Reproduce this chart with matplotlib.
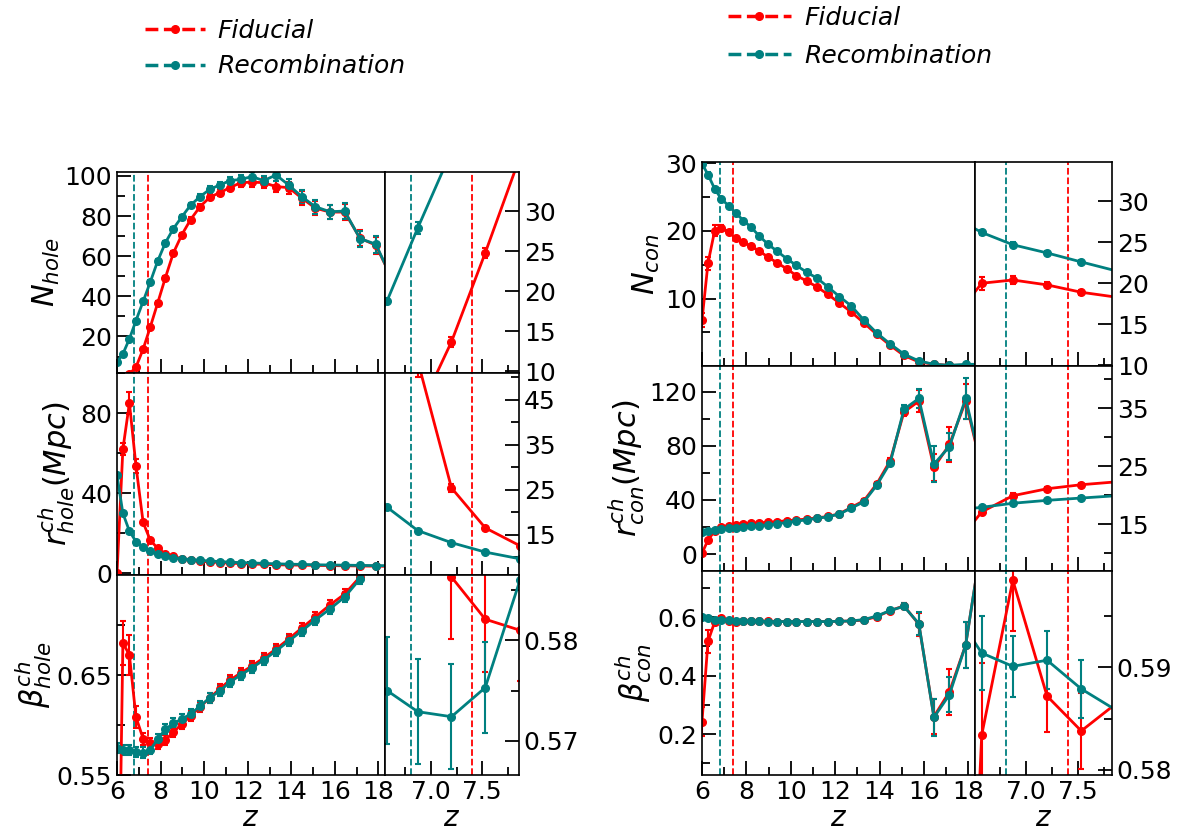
import matplotlib.pyplot as plt
from matplotlib.lines import Line2D
from matplotlib.ticker import MultipleLocator, FixedLocator, FormatStrFormatter, NullLocator

# redshift grid shared by all the quantities
z = [6.00, 6.27, 6.57, 6.87, 7.20, 7.53, 7.87, 8.22, 8.59, 8.98, 9.38, 9.81, 10.25, 10.71,
     11.19, 11.68, 12.19, 12.73, 13.30, 13.88, 14.48, 15.10, 15.77, 16.45, 17.15, 17.88, 18.65]

# number of holes
nhole_fid = [0.0, 0.4, 1.3, 4.7, 13.7, 24.8, 36.8, 49.3, 61.7, 70.8, 78.3, 84.7, 89.3, 91.7,
             94.2, 96.7, 96.9, 96.7, 94.7, 94.2, 89.0, 84.0, 82.0, 82.0, 69.0, 65.5, 48.0]
nhole_fid_err = [0.1, 0.2, 0.3, 0.5, 0.6, 0.6, 0.8, 0.8, 0.9, 1.0, 1.2, 1.3, 1.5, 1.6,
                 1.8, 2.0, 2.3, 2.5, 2.8, 3.0, 3.3, 3.5, 3.5, 3.8, 4.0, 4.2, 5.0]
nhole_rec = [7.2, 11.3, 18.8, 27.9, 37.5, 47.2, 57.7, 66.7, 73.8, 79.7, 85.5, 89.7, 93.3, 95.5,
             97.7, 98.3, 99.7, 97.7, 100.5, 95.5, 89.7, 84.7, 82.2, 82.5, 68.8, 66.0, 48.0]
nhole_rec_err = [0.2, 0.3, 0.4, 0.7, 0.7, 0.8, 0.8, 0.9, 1.0, 1.0, 1.2, 1.3, 1.5, 1.6,
                 1.8, 2.0, 2.3, 2.5, 2.8, 3.0, 3.3, 3.5, 3.5, 3.8, 4.0, 4.2, 5.0]

# characteristic hole size (Mpc)
rhole_fid = [0.0, 62.0, 85.0, 53.7, 25.4, 16.5, 12.5, 9.8, 8.5, 7.3, 6.6, 6.1, 5.7, 5.4,
             5.1, 4.9, 4.7, 4.5, 4.3, 4.2, 4.1, 4.0, 3.9, 3.8, 3.7, 3.6, 3.5]
rhole_fid_err = [0.0, 3.0, 5.5, 3.5, 0.9, 0.5, 0.3, 0.2, 0.2, 0.2, 0.2, 0.2, 0.2, 0.2,
                 0.2, 0.2, 0.2, 0.2, 0.2, 0.2, 0.2, 0.2, 0.2, 0.2, 0.2, 0.2, 0.2]
rhole_rec = [49.0, 30.0, 21.1, 15.9, 13.2, 11.1, 9.6, 8.6, 7.8, 7.3, 6.9, 6.5, 6.2, 5.9,
             5.6, 5.4, 5.2, 5.0, 4.8, 4.6, 4.5, 4.3, 4.2, 4.1, 4.0, 3.9, 3.8]
rhole_rec_err = [0.5, 0.4, 0.3, 0.2, 0.2, 0.2, 0.2, 0.2, 0.2, 0.2, 0.2, 0.2, 0.2, 0.2,
                 0.2, 0.2, 0.2, 0.2, 0.2, 0.2, 0.2, 0.2, 0.2, 0.2, 0.2, 0.2, 0.2]

# hole beta
bhole_fid = [0.29, 0.682, 0.670, 0.608, 0.5863, 0.5821, 0.581, 0.585, 0.593, 0.601, 0.609, 0.618,
             0.627, 0.636, 0.645, 0.652, 0.659, 0.667, 0.676, 0.686, 0.697, 0.708, 0.720, 0.731,
             0.748, 0.770, 0.790]
bhole_fid_err = [0.03, 0.022, 0.0195, 0.011, 0.0062, 0.0053, 0.005, 0.005, 0.005, 0.005, 0.005,
                 0.005, 0.005, 0.005, 0.005, 0.005, 0.005, 0.005, 0.005, 0.005, 0.005, 0.005,
                 0.005, 0.005, 0.005, 0.005, 0.005]
bhole_rec = [0.5767, 0.5752, 0.5750, 0.5729, 0.5724, 0.5753, 0.5860, 0.5957, 0.6017, 0.6060,
             0.6110, 0.6190, 0.6270, 0.6340, 0.6430, 0.6500, 0.6570, 0.6650, 0.6740, 0.6840,
             0.6940, 0.7050, 0.7160, 0.7280, 0.7460, 0.7700, 0.7900]
bhole_rec_err = [0.005, 0.005, 0.0053, 0.0052, 0.0052, 0.0045, 0.005, 0.005, 0.005, 0.005, 0.005,
                 0.005, 0.005, 0.005, 0.005, 0.005, 0.005, 0.005, 0.005, 0.005, 0.005, 0.005,
                 0.005, 0.005, 0.005, 0.005, 0.005]

# number of connected regions
ncon_fid = [6.8, 15.2, 20.0, 20.4, 19.8, 18.9, 18.3, 17.7, 17.0, 16.1, 15.3, 14.4, 13.4, 12.6,
            11.7, 10.6, 9.35, 8.0, 6.4, 4.7, 3.1, 1.6, 0.65, 0.3, 0.15, 0.15, 0.15]
ncon_fid_err = [1.0, 1.0, 0.8, 0.5, 0.3, 0.3, 0.2, 0.2, 0.2, 0.2, 0.2, 0.2, 0.2, 0.2,
                0.2, 0.2, 0.2, 0.2, 0.2, 0.2, 0.2, 0.2, 0.2, 0.1, 0.1, 0.1, 0.1]
ncon_rec = [29.9, 28.3, 26.2, 24.7, 23.7, 22.6, 21.5, 20.5, 19.2, 18.0, 17.0, 15.9, 14.9, 13.9,
            13.0, 11.7, 10.3, 8.9, 6.8, 4.9, 3.3, 1.8, 0.8, 0.3, 0.15, 0.3, 0.3]
ncon_rec_err = [0.3, 0.3, 0.3, 0.3, 0.2, 0.2, 0.2, 0.2, 0.2, 0.2, 0.2, 0.2, 0.2, 0.2,
                0.2, 0.2, 0.2, 0.2, 0.2, 0.2, 0.2, 0.2, 0.2, 0.1, 0.1, 0.1, 0.1]

# characteristic connected size (Mpc)
rcon_fid = [0.5, 10.4, 17.1, 19.9, 21.1, 21.8, 22.3, 22.7, 23.1, 23.5, 24.0, 24.6, 25.2, 25.9,
            26.8, 27.8, 29.8, 34.5, 39.5, 52.0, 69.0, 105.0, 113.0, 64.0, 81.0, 113.0, 60.0]
rcon_fid_err = [0.5, 1.0, 0.5, 0.4, 0.3, 0.3, 0.3, 0.3, 0.3, 0.3, 0.3, 0.3, 0.3, 0.3,
                0.4, 0.5, 0.6, 0.8, 1.0, 1.5, 2.0, 3.0, 8.0, 10.0, 13.0, 13.0, 13.0]
rcon_rec = [16.5, 17.3, 17.9, 18.6, 19.1, 19.5, 19.9, 20.4, 21.0, 21.6, 22.4, 23.3, 24.3, 25.3,
            26.4, 27.6, 29.6, 34.0, 38.7, 51.0, 67.5, 107.0, 115.0, 66.5, 79.4, 115.0, 61.0]
rcon_rec_err = [0.3, 0.3, 0.3, 0.3, 0.3, 0.3, 0.3, 0.3, 0.3, 0.3, 0.3, 0.3, 0.3, 0.3,
                0.4, 0.5, 0.6, 0.8, 1.0, 1.5, 2.0, 3.0, 7.0, 13.5, 10.0, 15.0, 15.0]

# connected beta
bcon_fid = [0.243, 0.517, 0.5834, 0.5985, 0.5872, 0.5838, 0.5865, 0.586, 0.586, 0.586, 0.585,
            0.585, 0.585, 0.585, 0.585, 0.585, 0.586, 0.587, 0.590, 0.602, 0.6226, 0.6386, 0.576,
            0.260, 0.345, 0.505, 0.880]
bcon_fid_err = [0.05, 0.04, 0.007, 0.005, 0.0035, 0.0037, 0.004, 0.004, 0.004, 0.004, 0.004,
                0.004, 0.004, 0.004, 0.004, 0.004, 0.004, 0.005, 0.005, 0.006, 0.008, 0.01,
                0.04, 0.06, 0.078, 0.08, 0.08]
bcon_rec = [0.602, 0.596, 0.5914, 0.5901, 0.5907, 0.5879, 0.5858, 0.586, 0.586, 0.585, 0.585,
            0.585, 0.585, 0.585, 0.585, 0.585, 0.586, 0.587, 0.592, 0.604, 0.623, 0.637, 0.578,
            0.257, 0.335, 0.505, 0.880]
bcon_rec_err = [0.004, 0.004, 0.0036, 0.003, 0.0028, 0.0028, 0.003, 0.003, 0.003, 0.003, 0.003,
                0.003, 0.003, 0.003, 0.003, 0.003, 0.003, 0.004, 0.005, 0.006, 0.008, 0.01,
                0.04, 0.064, 0.06, 0.08, 0.08]

RED = 'red'
TEAL = 'teal'
Z_REC = 6.8   # end of reionization, recombination run
Z_FID = 7.4   # end of reionization, fiducial run

fig = plt.figure(figsize=(11.89, 8.32), dpi=100)


def draw(ax, fid, fid_err, rec, rec_err):
    ax.errorbar(z, fid, yerr=fid_err, color=RED, marker='o', ms=5.5, lw=2,
                elinewidth=1.5, capsize=2.5, capthick=1.5)
    ax.errorbar(z, rec, yerr=rec_err, color=TEAL, marker='o', ms=5.5, lw=2,
                elinewidth=1.5, capsize=2.5, capthick=1.5)
    ax.axvline(Z_REC, color=TEAL, ls='--', lw=1.3)
    ax.axvline(Z_FID, color=RED, ls='--', lw=1.3)
    ax.tick_params(which='both', direction='in', labelsize=18, width=1.3)
    ax.tick_params(which='major', length=10)
    ax.tick_params(which='minor', length=6)
    for s in ax.spines.values():
        s.set_linewidth(1.2)


def main_panel(rect, fid, fid_err, rec, rec_err, ylim, major, minor, ylabel, bottom):
    ax = fig.add_axes(rect)
    draw(ax, fid, fid_err, rec, rec_err)
    ax.set_xlim(6, 18.3)
    ax.set_ylim(*ylim)
    ax.xaxis.set_major_locator(MultipleLocator(2))
    ax.xaxis.set_minor_locator(MultipleLocator(1))
    ax.yaxis.set_major_locator(major)
    ax.yaxis.set_minor_locator(minor)
    ax.set_ylabel(ylabel, fontsize=22, labelpad=2)
    if bottom:
        ax.set_xlabel('$z$', fontsize=20, labelpad=0)
    else:
        ax.tick_params(labelbottom=False)
    return ax


def zoom_panel(rect, fid, fid_err, rec, rec_err, xlim, ylim, major, minor, fmt, bottom):
    ax = fig.add_axes(rect)
    draw(ax, fid, fid_err, rec, rec_err)
    ax.set_xlim(*xlim)
    ax.set_ylim(*ylim)
    ax.yaxis.tick_right()
    ax.xaxis.set_major_locator(FixedLocator([7.0, 7.5]))
    ax.xaxis.set_minor_locator(FixedLocator([6.75, 7.25, 7.75]))
    ax.xaxis.set_major_formatter(FormatStrFormatter('%.1f'))
    ax.yaxis.set_major_locator(major)
    ax.yaxis.set_minor_locator(minor)
    if fmt:
        ax.yaxis.set_major_formatter(FormatStrFormatter(fmt))
    if bottom:
        ax.set_xlabel('$z$', fontsize=20, labelpad=0)
    else:
        ax.tick_params(labelbottom=False)
    return ax


# left group: holes
LX, LW, LZX, LZW = 0.0984, 0.2254, 0.3238, 0.1127
lrows = [(0.5517, 0.2416), (0.3089, 0.2428), (0.0685, 0.2404)]

main_panel([LX, lrows[0][0], LW, lrows[0][1]], nhole_fid, nhole_fid_err, nhole_rec, nhole_rec_err,
           (1.8, 102), MultipleLocator(20), MultipleLocator(10), r'$N_{hole}$', False)
main_panel([LX, lrows[1][0], LW, lrows[1][1]], rhole_fid, rhole_fid_err, rhole_rec, rhole_rec_err,
           (-0.8, 100), MultipleLocator(40), MultipleLocator(20), r'$r^{ch}_{hole}(Mpc)$', False)
main_panel([LX, lrows[2][0], LW, lrows[2][1]], bhole_fid, bhole_fid_err, bhole_rec, bhole_rec_err,
           (0.55, 0.75), FixedLocator([0.55, 0.65]), FixedLocator([0.60, 0.70]),
           r'$\beta^{ch}_{hole}$', True)

zoom_panel([LZX, lrows[0][0], LZW, lrows[0][1]], nhole_fid, nhole_fid_err, nhole_rec, nhole_rec_err,
           (6.55, 7.86), (9.8, 34.9), MultipleLocator(5), NullLocator(), None, False)
zoom_panel([LZX, lrows[1][0], LZW, lrows[1][1]], rhole_fid, rhole_fid_err, rhole_rec, rhole_rec_err,
           (6.55, 7.86), (6, 51), FixedLocator([15, 25, 35, 45]), FixedLocator([10, 20, 30, 40, 50]),
           None, False)
zoom_panel([LZX, lrows[2][0], LZW, lrows[2][1]], bhole_fid, bhole_fid_err, bhole_rec, bhole_rec_err,
           (6.55, 7.86), (0.5666, 0.5865), FixedLocator([0.57, 0.58]), FixedLocator([0.575, 0.585]),
           '%.2f', True)

# right group: connected regions
RX, RW, RZX, RZW = 0.5904, 0.2296, 0.8200, 0.1152
rrows = [(0.5601, 0.2452), (0.3137, 0.2464), (0.0685, 0.2452)]

main_panel([RX, rrows[0][0], RW, rrows[0][1]], ncon_fid, ncon_fid_err, ncon_rec, ncon_rec_err,
           (0.05, 30.15), MultipleLocator(10), MultipleLocator(5), r'$N_{con}$', False)
main_panel([RX, rrows[1][0], RW, rrows[1][1]], rcon_fid, rcon_fid_err, rcon_rec, rcon_rec_err,
           (-12.5, 139), MultipleLocator(40), MultipleLocator(20), r'$r^{ch}_{con}(Mpc)$', False)
main_panel([RX, rrows[2][0], RW, rrows[2][1]], bcon_fid, bcon_fid_err, bcon_rec, bcon_rec_err,
           (0.06, 0.758), MultipleLocator(0.2), MultipleLocator(0.1), r'$\beta^{ch}_{con}$', True)

zoom_panel([RZX, rrows[0][0], RZW, rrows[0][1]], ncon_fid, ncon_fid_err, ncon_rec, ncon_rec_err,
           (6.505, 7.826), (9.9, 34.8), MultipleLocator(5), NullLocator(), None, False)
zoom_panel([RZX, rrows[1][0], RZW, rrows[1][1]], rcon_fid, rcon_fid_err, rcon_rec, rcon_rec_err,
           (6.505, 7.826), (6.9, 42.3), FixedLocator([15, 25, 35]), FixedLocator([10, 20, 30, 40]),
           None, False)
zoom_panel([RZX, rrows[2][0], RZW, rrows[2][1]], bcon_fid, bcon_fid_err, bcon_rec, bcon_rec_err,
           (6.505, 7.826), (0.5795, 0.5994), FixedLocator([0.58, 0.59]), FixedLocator([0.585, 0.595]),
           '%.2f', True)

# legends
fid_h = Line2D([], [], color=RED, ls='--', marker='o', ms=5.5, lw=2.5)
rec_h = Line2D([], [], color=TEAL, ls='--', marker='o', ms=5.5, lw=2.5)
fig.legend([fid_h, rec_h], ['Fiducial', 'Recombination'], loc='upper left',
           bbox_to_anchor=(145 / 1189, 1 - 19 / 832), frameon=False,
           prop={'size': 18, 'style': 'italic'}, handlelength=2.4, handletextpad=0.5,
           labelspacing=0.45, borderpad=0, borderaxespad=0)
fig.legend([fid_h, rec_h], ['Fiducial', 'Recombination'], loc='upper left',
           bbox_to_anchor=(728 / 1189, 1 - 6 / 832), frameon=False,
           prop={'size': 18, 'style': 'italic'}, handlelength=2.5, handletextpad=0.55,
           labelspacing=0.55, borderpad=0, borderaxespad=0)

fig.savefig('out.png', dpi=100)
